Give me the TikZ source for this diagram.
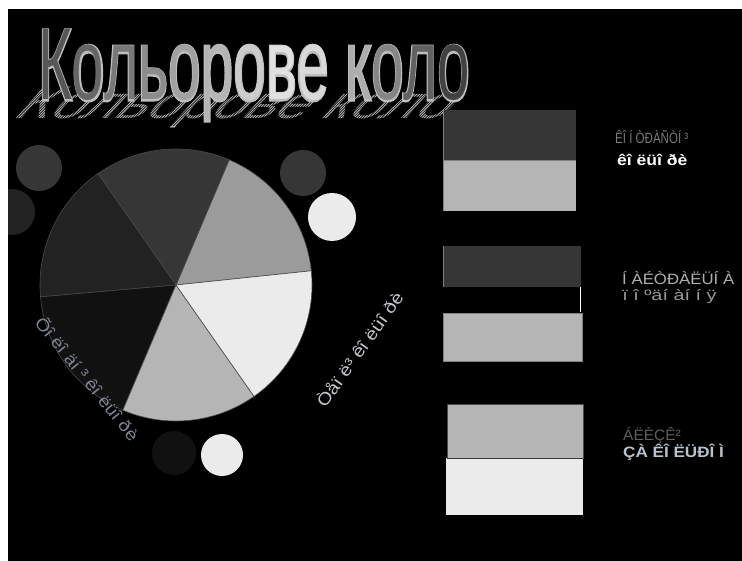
\documentclass[tikz,border=0pt]{standalone}
\usepackage{graphicx}
\usepackage{fontspec}
\setmainfont{Liberation Sans}
\newfontfamily\titleoutlinefont[FakeBold=3]{Liberation Sans}
\definecolor{segA}{HTML}{9B9B9B}
\definecolor{segB}{HTML}{363636}
\definecolor{segC}{HTML}{222222}
\definecolor{segD}{HTML}{111111}
\definecolor{segE}{HTML}{B5B5B5}
\definecolor{segF}{HTML}{EBEBEB}
\definecolor{edgecol}{HTML}{4A4A4A}
\definecolor{boxgray}{HTML}{808080}
\definecolor{txtA}{HTML}{7A7A7A}
\definecolor{txtB}{HTML}{B0B0B0}
\definecolor{txtC}{HTML}{9A9A9A}
\definecolor{txtD}{HTML}{5E5E5E}
\definecolor{txtE}{HTML}{B9C3CC}
\definecolor{txtL}{HTML}{7D8590}
\definecolor{txtR}{HTML}{C4C8CC}
\definecolor{shadowcol}{HTML}{B4B4B4}
\definecolor{outlinecol}{HTML}{BDBDBD}
\newcommand{\gl}[2]{\textcolor[gray]{#1}{#2}}
\newcommand{\TitleText}{\resizebox{432pt}{70pt}{\fontsize{50}{50}\selectfont
  \gl{0.34}{К}\gl{0.40}{о}\gl{0.47}{л}\gl{0.55}{ь}\gl{0.63}{о}\gl{0.71}{р}\gl{0.80}{о}\gl{0.88}{в}\gl{0.85}{е} \gl{0.68}{к}\gl{0.52}{о}\gl{0.38}{л}\gl{0.26}{о}}}
\newcommand{\OutlineText}{\resizebox{432pt}{70pt}{\fontsize{50}{50}\titleoutlinefont Кольорове коло}}
\newcommand{\ShadowText}{\resizebox{432pt}{70pt}{\fontsize{50}{50}\selectfont Кольорове коло}}
\tikzset{
  ttl/.style={anchor=base west, inner sep=0pt, outer sep=0pt},
  sidetxt/.style={anchor=base west, inner sep=0pt, font=\fontsize{15}{15}\selectfont},
  sideboldtxt/.style={anchor=base west, inner sep=0pt, font=\fontsize{15}{15}\selectfont\bfseries},
  rottxt/.style={inner sep=0pt, font=\fontsize{17}{17}\selectfont},
  sector/.style={draw=edgecol, line width=0.6pt},
}
\begin{document}
\begin{tikzpicture}[x=1pt,y=-1pt]
\useasboundingbox (0,0) rectangle (742,561);
\fill[white] (0,0) rectangle (742,561);
\fill[black] (8,9) rectangle (742,561);

% title shadow with hatching
\begin{scope}
  \clip (8,9) rectangle (742,561);
  \node[ttl, text=shadowcol, yscale=0.45, xslant=0.4] (ttlshadow) at (12,119) {\ShadowText};
\end{scope}
\begin{scope}
  \clip (8,78) rectangle (460,126);
  \foreach \k in {0,...,200}{
    \draw[black, line width=0.6pt] ({2.6*\k-40},126) -- ({2.6*\k+8},78);
  }
\end{scope}

% title: light outline behind, graded letters in front
\node[ttl, text=outlinecol] (ttlout) at (38,100) {\OutlineText};
\node[ttl] (ttl) at (38,100) {\TitleText};

% small circles
\begin{scope}
  \clip (8,9) rectangle (742,561);
  \fill[segC] (12,212) circle (23);
\end{scope}
\fill[segB] (39,168) circle (23);
\fill[segB] (303,173) circle (23);
\fill[segF] (332,217) circle (24);
\fill[segD] (174,453) circle (22);
\fill[segF] (222,455) circle (21);

% colour wheel
\coordinate (pc) at (176,285);
\foreach \a/\b/\c in {6/67/segA, 67/125/segB, 125/185/segC, 185/247/segD, 247/305/segE, 305/366/segF}{
  \filldraw[sector, fill=\c] (pc) -- ++(-\a:136) arc[start angle=-\a, end angle=-\b, radius=136] -- cycle;
}

% rotated labels
\node[rottxt, text=txtL, rotate=-51, xscale=1.12] (cold) at (88,378) {Õî ëî äí ³ êî ëüî ðè};
\node[rottxt, text=txtR, rotate=54.5, xscale=1.15] (warm) at (359,349) {Òåï ë³ êî ëüî ðè};

% right-hand swatches
\fill[segB] (443,110) rectangle (576,160);
\fill[segE] (443,160) rectangle (576,211);
\draw[boxgray, line width=0.8pt] (443,110) -- (443,211);
\draw[boxgray, line width=0.8pt] (443,160) -- (576,160);

\fill[segB] (443,246) rectangle (581,287);
\draw[boxgray, line width=0.8pt] (443,246) -- (443,287);
\draw[white, line width=0.8pt] (580,287) -- (580,312);
\filldraw[fill=segE, draw=boxgray, line width=0.8pt] (443,313) rectangle (582,361);

\filldraw[fill=segE, draw=edgecol, line width=0.6pt] (447,404) rectangle (583,458);
\fill[segF] (446,458) rectangle (583,515);
\draw[segB, line width=1pt] (447,458) -- (583,458);

% right-hand labels
\node[sidetxt, text=txtA, xscale=0.77] (l1a) at (615,144) {ÊÎ Í ÒÐÀÑÒÍ ³};
\node[sideboldtxt, text=white, xscale=1.17] (l1b) at (617,166) {êî ëüî ðè};
\node[sidetxt, text=txtB, xscale=1.12] (l2a) at (622,285) {Í ÀÉÒÐÀËÜÍ À};
\node[sidetxt, text=txtC, xscale=1.32] (l2b) at (622,301) {ï î ºäí àí í ÿ};
\node[sidetxt, text=txtD, xscale=1.03] (l3a) at (623,440) {ÁËÈÇÊ²};
\node[sideboldtxt, text=txtE, xscale=1.14] (l3b) at (623,457) {ÇÀ ÊÎ ËÜÐÎ Ì};
\end{tikzpicture}
\end{document}
